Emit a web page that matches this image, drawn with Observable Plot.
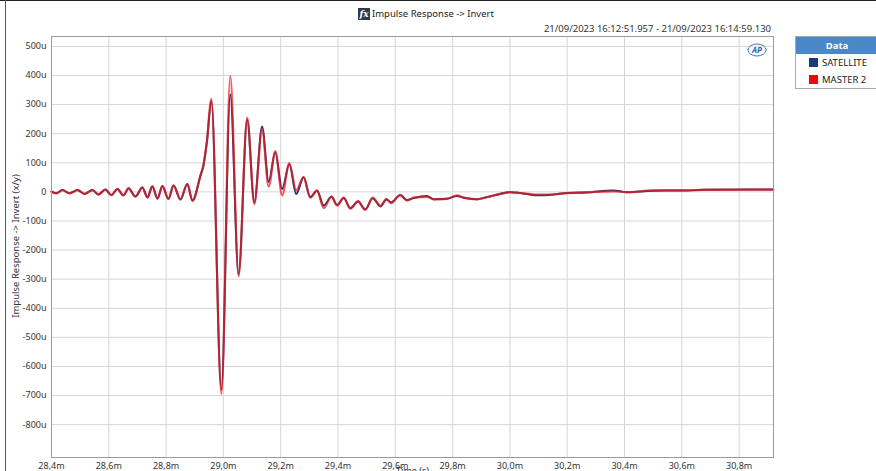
<!DOCTYPE html>
<html>
<head>
<meta charset="utf-8">
<script src="https://cdn.jsdelivr.net/npm/d3@7"></script>
<script src="https://cdn.jsdelivr.net/npm/@observablehq/plot@0.6"></script>
<style>
  html, body { margin: 0; padding: 0; background: #fff; }
  body { width: 876px; height: 471px; overflow: hidden; position: relative; font-family: "Noto Sans", "Open Sans", sans-serif; color: #333; }
  #chart { position: absolute; left: 0; top: 0; }
  .abs { position: absolute; white-space: nowrap; }
</style>
</head>
<body>
<div class="abs" style="left:0;top:0;width:876px;height:1px;background:#222"></div>
<div class="abs" style="left:5px;top:0;width:1px;height:471px;background:#555"></div>
<div id="chart"></div>
<div class="abs" style="left:358px;top:8px;width:12px;height:12px;background:#2d3b4b;color:#fff;font:italic bold 9px 'DejaVu Serif',serif;line-height:12px;text-align:center">fx</div>
<div class="abs" style="left:372px;top:7px;font-size:9.5px;line-height:14px;color:#222">Impulse Response -&gt; Invert</div>
<div class="abs" style="right:105px;top:22px;font-size:9.5px;line-height:14px;color:#333">21/09/2023 16:12:51.957 - 21/09/2023 16:14:59.130</div>
<svg class="abs" style="left:747px;top:43px" width="20" height="14">
  <ellipse cx="10" cy="7" rx="9" ry="6" fill="none" stroke="#3a78c0" stroke-width="1"/>
  <text x="10" y="10" text-anchor="middle" font-size="8" font-style="italic" font-weight="bold" fill="#2a62b0" font-family="Noto Sans">AP</text>
</svg>
<div class="abs" style="left:795px;top:36px;width:82px;height:51px;border:1px solid #a8a8a8;background:#fff">
  <div style="height:17px;background:#4a87c5;color:#fff;font-weight:bold;font-size:9.5px;line-height:17px;text-align:center">Data</div>
  <div id="legend"></div>
</div>
<script>
// Time axis values in milliseconds
const timeMs = [28.400, 28.417, 28.438, 28.463, 28.491, 28.515, 28.543, 28.564, 28.588, 28.609,
  28.630, 28.651, 28.669, 28.693, 28.717, 28.735, 28.752, 28.770, 28.787, 28.808,
  28.826, 28.850, 28.874, 28.892, 28.920, 28.930, 28.942, 28.958, 28.993, 29.024,
  29.053, 29.083, 29.108, 29.135, 29.158, 29.181, 29.205, 29.230, 29.254, 29.280,
  29.303, 29.327, 29.350, 29.377, 29.397, 29.420, 29.443, 29.470, 29.495, 29.521,
  29.548, 29.569, 29.585, 29.617, 29.641, 29.664, 29.711, 29.733, 29.780, 29.815,
  29.838, 29.885, 29.920, 29.966, 30.001, 30.036, 30.094, 30.152, 30.199, 30.269,
  30.361, 30.408, 30.500, 30.618, 30.674, 30.838, 30.919];
// Impulse response values in micro-units (u)
const satellite = [1, -5, 6, -5, 6, -7, 6, -9, 8, -11,
  10, -12, 12, -16, 15, -19, 19, -23, 20, -24,
  22, -26, 27, -30, 56, 90, 168, 312, -680, 335,
  -282, 248, -36, 225, 35, 135, 10, 95, -7, 50,
  -18, 4, -47, -17, -45, -21, -56, -33, -60, -22,
  -50, -26, -36, -12, -28, -21, -14, -25, -24, -14,
  -20, -25, -18, -7, -1, -4, -12, -9, -4, -2,
  5, -1, 4, 5, 7, 8, 8];
const master2 = [1, -5, 6, -5, 6, -7, 6, -9, 8, -11,
  10, -12, 12, -16, 15, -19, 19, -23, 20, -24,
  22, -26, 27, -31, 56, 90, 170, 320, -695, 398,
  -290, 255, -42, 216, 18, 140, -12, 99, 5, 51,
  -20, 5, -56, -16, -47, -20, -58, -32, -62, -20,
  -47, -24, -39, -10, -30, -20, -17, -26, -24, -12,
  -20, -26, -18, -7, -1, -4, -9, -9, -4, -1,
  2, -1, 5, 5, 7, 8, 8];
const seriesNames = ["SATELLITE", "MASTER 2"];
const seriesColors = ["#1b3a78", "#f01a1a"];
const xTicks = [28.4, 28.6, 28.8, 29.0, 29.2, 29.4, 29.6, 29.8, 30.0, 30.2, 30.4, 30.6, 30.8];
const yTicks = [500, 400, 300, 200, 100, 0, -100, -200, -300, -400, -500, -600, -700, -800];
const yLabel = "Impulse Response -> Invert (x/y)";
const xLabel = "Time (s)";

const satData = timeMs.map((t, i) => ({t, v: satellite[i]}));
const masData = timeMs.map((t, i) => ({t, v: master2[i]}));

const chart = Plot.plot({
  width: 876,
  height: 482,
  marginLeft: 51,
  marginRight: 103,
  marginTop: 36,
  marginBottom: 25,
  style: {fontFamily: "Noto Sans, Open Sans, sans-serif", fontSize: "9px", color: "#333", background: "transparent"},
  x: {domain: [28.4, 30.92]},
  y: {domain: [-913, 534]},
  marks: [
    Plot.frame({fill: "#fff", stroke: "none"}),
    Plot.gridX(xTicks, {stroke: "#d6d6d6", strokeOpacity: 1}),
    Plot.gridY(yTicks, {stroke: "#d6d6d6", strokeOpacity: 1}),
    Plot.axisX(xTicks, {tickSize: 0, tickPadding: 5, tickFormat: d => d.toFixed(1).replace(".", ",") + "m", label: null}),
    Plot.axisY(yTicks, {tickSize: 0, tickPadding: 5, tickFormat: d => d === 0 ? "0" : d + "u", label: null}),
    Plot.text([xLabel], {frameAnchor: "bottom", dy: 16, fontSize: 9, fill: "#333"}),
    Plot.line(satData, {x: "t", y: "v", stroke: seriesColors[0], strokeWidth: 2, curve: "monotone-x"}),
    Plot.line(masData, {x: "t", y: "v", stroke: seriesColors[1], strokeWidth: 2.2, strokeOpacity: 0.72, curve: "monotone-x"}),
    Plot.frame({stroke: "#9a9a9a"})
  ]
});
document.getElementById("chart").appendChild(chart);

// y label (rotated), positioned left of the axis
const yl = document.createElement("div");
yl.className = "abs";
yl.textContent = yLabel;
yl.style.cssText = "position:absolute;left:15px;top:246px;font-size:9.5px;color:#333;white-space:nowrap;transform:translate(-50%,-50%) rotate(-90deg);";
document.body.appendChild(yl);

// legend
const lg = document.getElementById("legend");
seriesNames.forEach((n, i) => {
  const row = document.createElement("div");
  row.style.cssText = "height:17px;display:flex;align-items:center;padding-left:13px;font-size:9.5px;color:#222";
  row.innerHTML = `<span style="display:inline-block;width:9px;height:9px;background:${seriesColors[i] === "#f01a1a" ? "#f00" : seriesColors[i]};margin-right:4px"></span>${n}`;
  lg.appendChild(row);
});
</script>
</body>
</html>
